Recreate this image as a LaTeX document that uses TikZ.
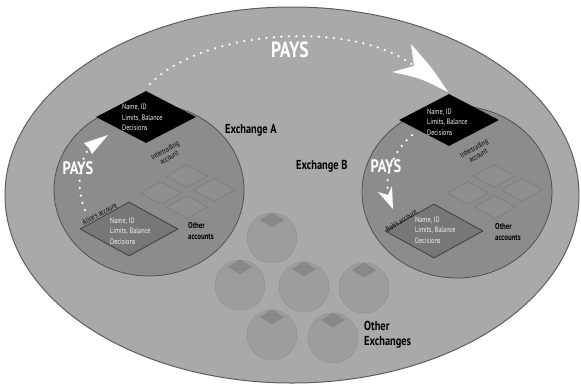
\documentclass[tikz,border=0pt]{standalone}
\usepackage{fontspec}
\setmainfont{PT Sans}
\newfontfamily\cond[FakeStretch=0.8]{PT Sans}
\usetikzlibrary{shapes.geometric}
\definecolor{worldfill}{HTML}{A9A9A9}
\definecolor{worldline}{HTML}{5E5E5E}
\definecolor{exfill}{HTML}{8C8C8C}
\definecolor{exline}{HTML}{505050}
\definecolor{accfill}{HTML}{777777}
\definecolor{accline}{HTML}{3E3E3E}
\definecolor{otherfill}{HTML}{8F8F8F}
\definecolor{otherline}{HTML}{7A7A7A}
\definecolor{smallfill}{HTML}{9D9D9D}
\definecolor{smallline}{HTML}{939393}
\definecolor{smalldia}{HTML}{888888}
\definecolor{txtwhite}{HTML}{F4F4F4}
\begin{document}
\begin{tikzpicture}[x=1pt,y=-1pt,
  world/.style={ellipse,draw=worldline,fill=worldfill,line width=1pt,minimum width=574pt,minimum height=376pt,inner sep=0pt},
  exbig/.style={ellipse,draw=exline,fill=exfill,line width=0.8pt,minimum width=190pt,minimum height=172pt,inner sep=0pt},
  exsmall/.style={circle,draw=smallline,fill=smallfill,line width=0.6pt,minimum size=50pt,inner sep=0pt},
  exdia/.style={diamond,fill=smalldia,minimum width=25pt,minimum height=15pt,inner sep=0pt},
  blackdia/.style={diamond,fill=black,minimum width=100pt,minimum height=52pt,inner sep=0pt},
  accdia/.style={diamond,draw=accline,fill=accfill,line width=0.8pt,minimum width=98pt,minimum height=54pt,inner sep=0pt},
  otherdia/.style={diamond,draw=otherline,fill=otherfill,line width=0.6pt,minimum width=41pt,minimum height=23pt,inner sep=0pt},
  infotext/.style={anchor=west,align=left,text=txtwhite,font=\cond\fontsize{7.8}{10.3}\selectfont,inner sep=0pt},
  labeltext/.style={align=center,text=black,font=\cond\fontsize{7.6}{8.2}\selectfont,inner sep=0pt},
  boldlabel/.style={anchor=west,align=left,text=black,font=\cond\bfseries\fontsize{8.6}{11.5}\selectfont,inner sep=0pt},
  exname/.style={anchor=west,text=black,font=\cond\bfseries\fontsize{13}{15}\selectfont,inner sep=0pt},
  paystext/.style={text=white,font=\cond\bfseries\fontsize{18}{20}\selectfont,inner sep=0pt},
  paysbig/.style={text=white,font=\cond\bfseries\fontsize{22}{24}\selectfont,inner sep=0pt},
  dots/.style={white,line width=2.5pt,line cap=round,dash pattern=on 0pt off 7.5pt},
  head/.style={fill=white}
]
\useasboundingbox (0,0) rectangle (581,384);
\fill[white] (0,0) rectangle (581,384);
\node[world] (world) at (292,195) {};

% other exchanges
\foreach \n/\x/\y in {1/272/238,2/240/285,3/304/287,4/364/288,5/272/335,6/333/338}{
  \node[exsmall] (ex\n) at (\x,\y) {};
  \node[exdia] (exd\n) at (\x,{\y-18}) {};
}

% exchange circles
\node[exbig] (exA) at (149,190) {};
\node[exbig] (exB) at (457,192) {};

% other accounts (small diamonds)
\node[otherdia] (oa1) at (187,176) {};
\node[otherdia] (oa2) at (161,193) {};
\node[otherdia] (oa3) at (214,190) {};
\node[otherdia] (oa4) at (187,207) {};
\node[otherdia] (ob1) at (494,176) {};
\node[otherdia] (ob2) at (468,193) {};
\node[otherdia] (ob3) at (522,190) {};
\node[otherdia] (ob4) at (495,207) {};

% account diamonds
\node[accdia] (alice) at (129,229) {};
\node[accdia] (bob) at (434,231) {};
\node[blackdia] (intA) at (146,117) {};
\node[blackdia] (intB) at (449,120) {};

% diamond texts
\node[infotext] (tA) at (122,117.5) {Name, ID\\Limits, Balance\\Decisions};
\node[infotext] (tB) at (427,122) {Name, ID\\Limits, Balance\\Decisions};
\node[infotext] (tAl) at (110,231) {Name, ID\\Limits, Balance\\Decisions};
\node[infotext] (tBo) at (415,230) {Name, ID\\Limits, Balance\\Decisions};

% labels
\node[labeltext,rotate=30] (lA) at (167,154) {Intertrading\\account};
\node[labeltext,rotate=30] (lB) at (476,152) {Intertrading\\account};
\node[labeltext,rotate=28,anchor=south] (lAl) at (101,216.5) {Alice's account};
\node[labeltext,rotate=32,anchor=south] (lBo) at (403,223) {Bob's account};
\node[boldlabel] (oA) at (188,231) {Other\\accounts};
\node[boldlabel] (oB) at (495,232) {Other\\accounts};
\node[exname] (nA) at (225,130) {Exchange A};
\node[exname] (nB) at (296,166) {Exchange B};
\node[exname,align=left] (nO) at (364,335) {Other\\Exchanges};

% arrows
\coordinate (s0) at (150,84);
\coordinate (e0) at (414,66);
\draw[dots] (s0) .. controls (205,28) and (355,20) .. (e0);
\fill[head] (448,92) .. controls (432,68) .. (411,44) -- (e0) -- (392,72) .. controls (420,78) .. (448,92) -- cycle;
\node[paysbig] (p0) at (290,50) {PAYS};

\coordinate (s1) at (85,210);
\coordinate (e1) at (89,148);
\draw[dots] (s1) .. controls (75,185) and (80,162) .. (e1);
\fill[head] (108,135) -- (84,143) -- (e1) -- (92,154) -- cycle;
\node[paystext] (p1) at (78,168) {PAYS};

\coordinate (s2) at (412,135);
\coordinate (e2) at (388,195);
\draw[dots] (s2) .. controls (395,150) and (385,170) .. (e2);
\fill[head] (393,209) -- (378,192) -- (e2) -- (392,186) -- cycle;
\node[paystext] (p2) at (386,166) {PAYS};
\end{tikzpicture}
\end{document}
